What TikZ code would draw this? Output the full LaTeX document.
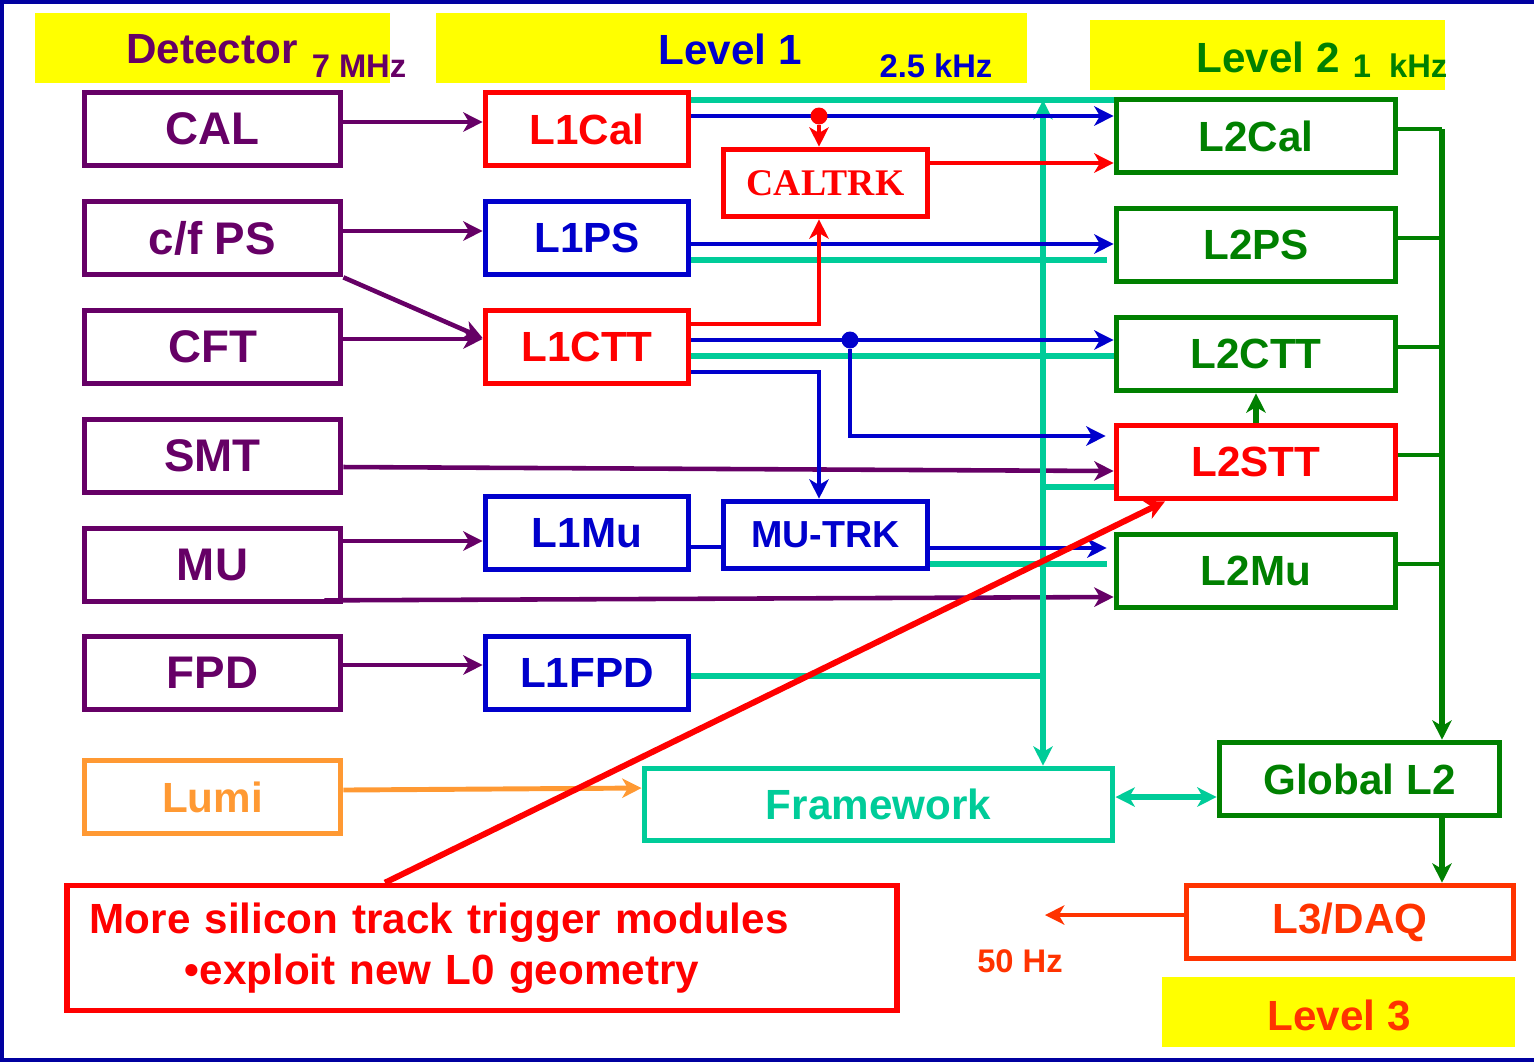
\documentclass[tikz,border=0pt]{standalone}
\usepackage{fontspec}
\setmainfont{Liberation Sans}
\newfontfamily\serifbf{Liberation Serif}
\usetikzlibrary{arrows.meta}

\definecolor{dpurple}{HTML}{660066}
\definecolor{dblue}{HTML}{0000CC}
\definecolor{dgreen}{HTML}{008000}
\definecolor{fwteal}{HTML}{00CC99}
\definecolor{lumiorange}{HTML}{FF9933}
\definecolor{daqorange}{HTML}{FF3300}
\definecolor{hiyellow}{HTML}{FFFF00}
\definecolor{framenavy}{HTML}{0000A0}

\def\big{\bfseries\fontsize{12}{14}\selectfont}
\def\small{\bfseries\fontsize{9.3}{10}\selectfont}

\begin{document}
\begin{tikzpicture}[x=0.01cm, y=-0.01cm]
			\tikzset{
				box/.style={draw, line width=1.6pt, minimum height=0.73cm, inner sep=0pt, font=\big},
				detbox/.style={box, color=dpurple, minimum width=2.56cm, font=\bfseries\fontsize{13}{15}\selectfont},
				lonebox/.style={box, minimum width=2.03cm},
				ltwobox/.style={box, color=dgreen, minimum width=2.79cm},
				trkbox/.style={box, minimum width=2.04cm, minimum height=0.67cm},
				con/.style={line width=1.3pt},
				dot/.style={circle, fill, inner sep=0pt, minimum size=0.17cm},
				>={Stealth[length=5.5pt, width=5.5pt, inset=1.6pt]}
			}
			\useasboundingbox (0,0) rectangle (1534,1062);
			\draw[framenavy, line width=1.4pt] (1534,2) -- (2,2) -- (2,1060) -- (1534,1060);
			% level headers
			\fill[hiyellow] (35,13) rectangle (390,83);
			\fill[hiyellow] (436,13) rectangle (1027,83);
			\fill[hiyellow] (1090,20) rectangle (1445,90);
			\fill[hiyellow] (1162,977) rectangle (1515,1047);
			\node[dpurple, font=\big] (hdet) at (212,49) {Detector};
			\node[dpurple, font=\small] (rdet) at (359,66) {7 MHz};
			\node[dblue, font=\big] (hlone) at (730,49) {Level 1};
			\node[dblue, font=\small] (rlone) at (936,66) {2.5 kHz};
			\node[dgreen, font=\big] (hltwo) at (1268,57) {Level 2};
			\node[dgreen, font=\small] (rltwo) at (1400,66) {1\ \ kHz};
			\node[daqorange, font=\big] (hlthree) at (1339,1015) {Level 3};
			\node[daqorange, font=\small] (rlthree) at (1020,961) {50 Hz};
			% detector
			\node[detbox] (cal) at (212.5,129) {CAL};
			\node[detbox] (cfps) at (212.5,238) {c/f PS};
			\node[detbox] (cft) at (212.5,347) {CFT};
			\node[detbox] (smt) at (212.5,456) {SMT};
			\node[detbox] (mu) at (212.5,565) {MU};
			\node[detbox] (fpd) at (212.5,673) {FPD};
			\node[detbox, color=lumiorange, font=\big] (lumi) at (212.5,797) {Lumi};
			% level 1
			\node[lonebox, red] (l1cal) at (587,129) {L1Cal};
			\node[lonebox, dblue] (l1ps) at (587,238) {L1PS};
			\node[lonebox, red] (l1ctt) at (587,347) {L1CTT};
			\node[lonebox, dblue] (l1mu) at (587,533) {L1Mu};
			\node[lonebox, dblue] (l1fpd) at (587,673) {L1FPD};
			\node[trkbox, red, font=\serifbf\bfseries\fontsize{10.7}{12}\selectfont] (caltrk) at (825.5,183) {CALTRK};
			\node[trkbox, dblue, font=\bfseries\fontsize{10.7}{12}\selectfont] (mutrk) at (825.5,535) {MU-TRK};
			% level 2
			\node[ltwobox] (l2cal) at (1256,136) {L2Cal};
			\node[ltwobox] (l2ps) at (1256,245) {L2PS};
			\node[ltwobox] (l2ctt) at (1256,354) {L2CTT};
			\node[ltwobox, red] (l2stt) at (1256,462) {L2STT};
			\node[ltwobox] (l2mu) at (1256,571) {L2Mu};
			\node[ltwobox, minimum width=2.80cm] (glob) at (1359.5,779) {Global L2};
			\node[box, daqorange, minimum width=3.27cm] (l3daq) at (1350,922) {L3/DAQ};
			\node[box, fwteal, minimum width=4.68cm, minimum height=0.72cm] (frame) at (878.5,804.5) {Framework};
			\node[box, red, minimum width=8.29cm, minimum height=1.25cm, text width=7.84cm, align=left, text=red,
				font=\bfseries\fontsize{12}{14.6}\selectfont] (note) at (482,948)
				{More silicon track trigger modules\\\hspace*{0.95cm}•exploit new L0 geometry};
			% detector to level 1
			\draw[con, dpurple, ->] (cal.east |- 0,122) -- (l1cal.west |- 0,122);
			\draw[con, dpurple, ->] (cfps.east |- 0,231) -- (l1ps.west |- 0,231);
			\draw[con, dpurple, ->] (cfps.south east) -- (l1ctt.west |- 0,338);
			\draw[con, dpurple, ->] (cft.east |- 0,339) -- (l1ctt.west |- 0,339);
			\draw[con, dpurple, ->] (smt.east |- 0,467) -- (l2stt.west |- 0,471);
			\draw[con, dpurple, ->] (mu.east |- 0,541) -- (l1mu.west |- 0,541);
			\draw[con, dpurple, ->] ([shift={(-19,-4)}]mu.south east) -- (l2mu.west |- 0,597);
			\draw[con, dpurple, ->] (fpd.east |- 0,665) -- (l1fpd.west |- 0,665);
			\draw[con, lumiorange, line width=1.4pt, ->] (lumi.east |- 0,790) -- (frame.west |- 0,788);
			% framework bus
			\coordinate (bus) at (1043,100);
			\draw[con, fwteal, line width=1.5pt, <->] (frame.north -| bus) -- (bus);
			\draw[con, fwteal, line width=1.5pt] (l1cal.east |- 0,100) -- (l2cal.west |- 0,100);
			\draw[con, fwteal, line width=1.5pt, shorten >=0.07cm] (l1ps.east |- 0,260) -- (l2ps.west |- 0,260);
			\draw[con, fwteal, line width=1.5pt] (l1ctt.east |- 0,356) -- (l2ctt.west |- 0,356);
			\draw[con, fwteal, line width=1.5pt] (bus |- 0,487) -- (l2stt.west |- 0,487);
			\draw[con, fwteal, line width=1.5pt, shorten >=0.07cm] (mutrk.east |- 0,564) -- (l2mu.west |- 0,564);
			\draw[con, fwteal, line width=1.5pt] (l1fpd.east |- 0,676) -- (bus |- 0,676);
			\draw[con, fwteal, line width=1.5pt, <->] (frame.east |- 0,797) -- (glob.west |- 0,797);
			% level 1 to level 2
			\draw[con, dblue, ->] (l1cal.east |- 0,116) -- (l2cal.west |- 0,116);
			\node[dot, red] (calsplit) at (819,116) {};
			\draw[con, red, ->] (calsplit) -- (caltrk.north -| calsplit);
			\draw[con, red, ->] (caltrk.east |- 0,163) -- (l2cal.west |- 0,163);
			\draw[con, dblue, ->] (l1ps.east |- 0,244) -- (l2ps.west |- 0,244);
			\draw[con, red, ->] (l1ctt.east |- 0,324) -| (caltrk.south -| calsplit);
			\draw[con, dblue, ->] (l1ctt.east |- 0,340) -- (l2ctt.west |- 0,340);
			\node[dot, dblue] (cttsplit) at (850,340) {};
			\draw[con, dblue, ->, shorten >=0.08cm] (cttsplit) |- (l2stt.west |- 0,436);
			\draw[con, dblue, ->] (l1ctt.east |- 0,372) -| (mutrk.north -| calsplit);
			\draw[con, dblue] (l1mu.east |- 0,547) -- (mutrk.west |- 0,547);
			\draw[con, dblue, ->, shorten >=0.07cm] (mutrk.east |- 0,548) -- (l2mu.west |- 0,548);
			% level 2 collector
			\coordinate (coll) at (1442,129);
			\draw[con, dgreen] (l2cal.east |- coll) -- (coll);
			\foreach \name/\yy in {l2ps/238, l2ctt/347, l2stt/455, l2mu/564}
				\draw[con, dgreen] (\name.east |- 0,\yy) -- (coll |- 0,\yy);
			\draw[con, dgreen, line width=1.5pt, ->] (coll) -- (glob.north -| coll);
			\draw[con, dgreen, line width=1.5pt, ->] (glob.south -| coll) -- (l3daq.north -| coll);
			\draw[con, dgreen, line width=1.5pt, ->] (l2stt.north) -- (l2ctt.south);
			\coordinate (daqout) at (1045,915);
			\draw[con, daqorange, ->] (l3daq.west |- daqout) -- (daqout);
			\draw[con, red, line width=1.7pt, ->] (note.north -| 385,0) -- (l2stt.south -| 1165,0);
		\end{tikzpicture}
\end{document}
